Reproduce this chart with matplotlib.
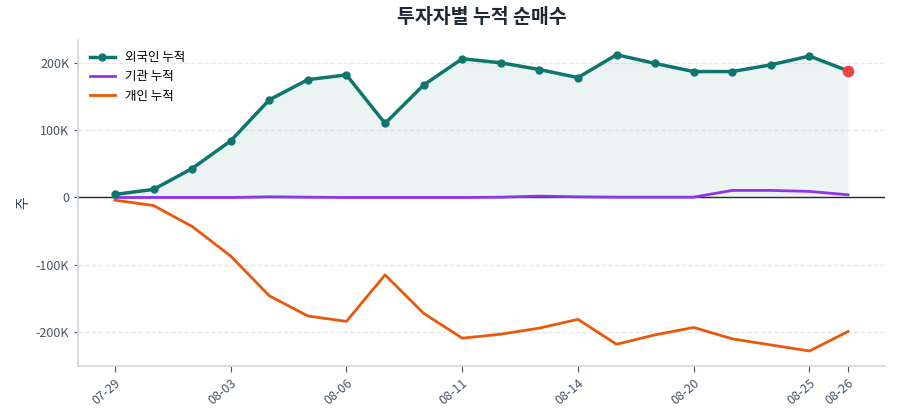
import matplotlib
matplotlib.use("Agg")
import matplotlib.pyplot as plt
from matplotlib.ticker import FuncFormatter

plt.rcParams['font.family'] = ['Noto Sans CJK KR', 'DejaVu Sans']

dates = ["07-29", "07-30", "07-31", "08-03", "08-04", "08-05", "08-06", "08-07",
         "08-10", "08-11", "08-12", "08-13", "08-14", "08-18", "08-19", "08-20",
         "08-21", "08-24", "08-25", "08-26"]
foreign = [4.5, 12, 43, 84, 145, 175, 182, 110, 167, 206, 200, 190, 178, 212,
           199, 187, 187, 197, 210, 188]
institution = [0, 0, 0, 0, 1, 0.5, 0, 0, 0, 0, 0.5, 2, 1, 0.5, 0.5, 0.5,
               10.5, 10.5, 9, 4]
individual = [-4, -12, -43, -87, -146, -176, -184, -115, -172, -209, -203, -194,
              -181, -218, -204, -193, -210, -219, -228, -199]
tick_idx = [0, 3, 6, 9, 12, 15, 18, 19]

foreign_v = [v * 1000 for v in foreign]
inst_v = [v * 1000 for v in institution]
indiv_v = [v * 1000 for v in individual]
x = list(range(len(dates)))

fig = plt.figure(figsize=(9, 4.2), dpi=100)
ax = fig.add_axes([0.087, 0.129, 0.896, 0.776])

ax.fill_between(x, foreign_v, 0, color='#0f766e', alpha=0.08, linewidth=0)
ax.plot(x, foreign_v, color='#0f766e', linewidth=2.5, marker='o', markersize=5,
        label='외국인 누적', zorder=4)
ax.plot(x, inst_v, color='#9333ea', linewidth=2, label='기관 누적', zorder=3)
ax.plot(x, indiv_v, color='#ea580c', linewidth=2, label='개인 누적', zorder=3)
ax.scatter([x[-1]], [foreign_v[-1]], s=55, color='#ef4444', zorder=5)
ax.axhline(0, color='#1e293b', linewidth=1.0, zorder=2)

ax.set_xlim(-0.95, 19.95)
ax.set_ylim(-250000, 234000)
ax.set_yticks([-200000, -100000, 0, 100000, 200000])
ax.yaxis.set_major_formatter(FuncFormatter(lambda v, p: '0' if v == 0 else f'{int(v/1000)}K'))
ax.set_xticks(tick_idx)
ax.set_xticklabels([dates[i] for i in tick_idx], rotation=40, ha='right',
                   rotation_mode='anchor')
ax.grid(axis='y', linestyle='--', color='#e5e7eb', linewidth=0.9)
ax.set_axisbelow(True)

for s in ['top', 'right']:
    ax.spines[s].set_visible(False)
for s in ['left', 'bottom']:
    ax.spines[s].set_color('#d1d5db')
    ax.spines[s].set_linewidth(1.2)
ax.tick_params(colors='#475569', labelsize=9, length=4)
ax.tick_params(axis='y', length=3)

ax.set_ylabel('주', fontsize=10, color='#334155')
ax.set_title('투자자별 누적 순매수', fontsize=14, fontweight='bold', color='#1f2937', pad=12)
leg = ax.legend(loc='upper left', frameon=False, fontsize=9)

fig.savefig('out.png', dpi=100)
